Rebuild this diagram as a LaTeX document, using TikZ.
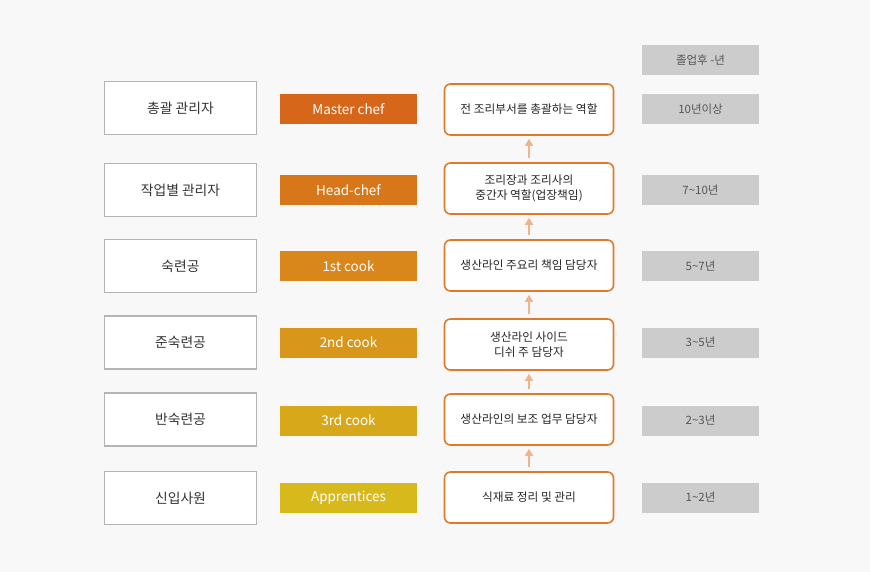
\documentclass[tikz,border=0pt]{standalone}
\usepackage{fontspec}
\setmainfont{Noto Sans CJK KR}
\usetikzlibrary{arrows.meta}
\definecolor{bg}{HTML}{F8F8F8}
\definecolor{lbord}{HTML}{B4B4B4}
\definecolor{mbord}{HTML}{E07A2A}
\definecolor{arr}{HTML}{F0B48C}
\definecolor{gbox}{HTML}{CCCCCC}
\definecolor{gtxt}{HTML}{555555}
\definecolor{cA}{HTML}{D5661A}
\definecolor{cB}{HTML}{D8771A}
\definecolor{cC}{HTML}{D9861A}
\definecolor{cD}{HTML}{D8961B}
\definecolor{cE}{HTML}{D8A81B}
\definecolor{cF}{HTML}{D8B91B}
\tikzset{
  lbox/.style={draw=lbord, line width=1.3pt, fill=white, minimum width=152pt, minimum height=53pt, inner sep=0pt, font=\fontsize{13.8}{16}\selectfont, text=black!80},
  obar/.style={minimum width=137pt, minimum height=30pt, inner sep=0pt, text=white, font=\fontsize{13.5}{15}\selectfont},
  mbox/.style={draw=mbord, line width=1.6pt, rounded corners=6pt, fill=white, minimum width=169pt, minimum height=51pt, inner sep=0pt, align=center, font=\fontsize{11.7}{15}\selectfont, text=black!85},
  gray/.style={fill=gbox, minimum width=117pt, minimum height=30pt, inner sep=0pt, text=gtxt, font=\fontsize{11.5}{13}\selectfont},
  up/.style={draw=arr, line width=1.8pt, -{Triangle[width=8pt,length=7pt]}, shorten <=4pt, shorten >=3pt}
}
\begin{document}
\begin{tikzpicture}[x=1pt,y=-1pt]
\fill[bg] (0,0) rectangle (870,572);
\useasboundingbox (0,0) rectangle (870,572);
% left boxes
\node[lbox] (l1) at (180.5,108) {총괄 관리자};
\node[lbox] (l2) at (180.5,190) {작업별 관리자};
\node[lbox] (l3) at (180.5,266) {숙련공};
\node[lbox] (l4) at (180.5,342.5) {준숙련공};
\node[lbox] (l5) at (180.5,419.5) {반숙련공};
\node[lbox] (l6) at (180.5,498) {신입사원};
% orange bars
\node[obar, fill=cA] (o1) at (348.5,109) {Master chef};
\node[obar, fill=cB] (o2) at (348.5,190) {Head-chef};
\node[obar, fill=cC] (o3) at (348.5,266) {1st cook};
\node[obar, fill=cD] (o4) at (348.5,342.5) {2nd cook};
\node[obar, fill=cE] (o5) at (348.5,420.5) {3rd cook};
\node[obar, fill=cF] (o6) at (348.5,497.5) {Apprentices};
% middle boxes
\node[mbox] (m1) at (529,109.5) {전 조리부서를 총괄하는 역할};
\node[mbox] (m2) at (529,188.5) {조리장과 조리사의\\중간자 역할(업장책임)};
\node[mbox] (m3) at (529,265.5) {생산라인 주요리 책임 담당자};
\node[mbox] (m4) at (529,344.5) {생산라인 사이드\\디쉬 주 담당자};
\node[mbox] (m5) at (529,419.5) {생산라인의 보조 업무 담당자};
\node[mbox] (m6) at (529,497.5) {식재료 정리 및 관리};
% arrows
\draw[up] (m2) -- (m1);
\draw[up] (m3) -- (m2);
\draw[up] (m4) -- (m3);
\draw[up] (m5) -- (m4);
\draw[up] (m6) -- (m5);
% grey boxes
\node[gray] (g0) at (700.5,60) {졸업후 -년};
\node[gray] (g1) at (700.5,109) {10년이상};
\node[gray] (g2) at (700.5,190) {7\textasciitilde10년};
\node[gray] (g3) at (700.5,266) {5\textasciitilde7년};
\node[gray] (g4) at (700.5,342.5) {3\textasciitilde5년};
\node[gray] (g5) at (700.5,420.5) {2\textasciitilde3년};
\node[gray] (g6) at (700.5,497.5) {1\textasciitilde2년};
\end{tikzpicture}
\end{document}
